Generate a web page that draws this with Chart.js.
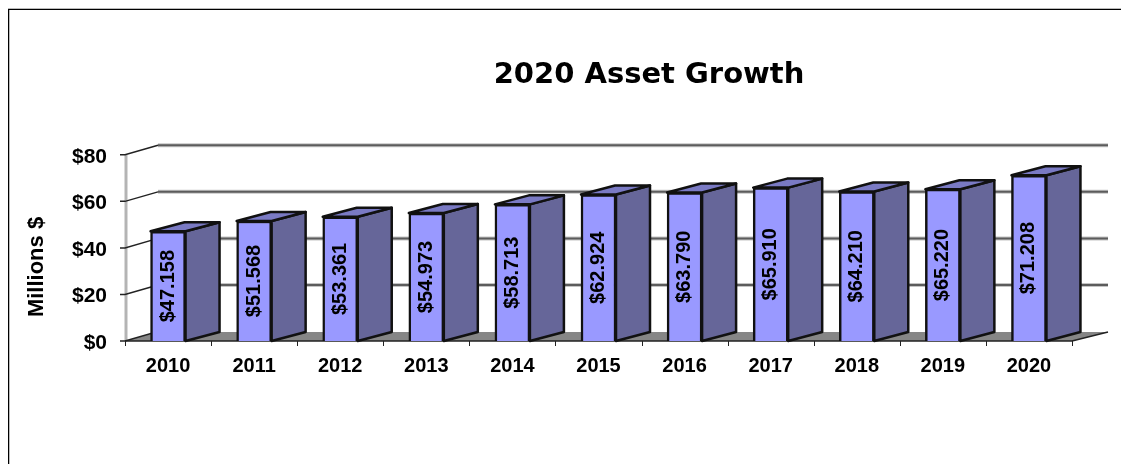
<!DOCTYPE html>
<html>
<head>
<meta charset="utf-8">
<title>2020 Asset Growth</title>
<script src="https://cdn.jsdelivr.net/npm/chart.js@4"></script>
<style>
    html, body { margin: 0; padding: 0; background: #fff; overflow: hidden; }
    #wrap { position: relative; width: 1121px; height: 464px; }
    #frame {
        position: absolute; left: 8px; top: 8px; right: 0; bottom: 0;
        border-top: 1px solid #bbb;
    }
    #frame div {
        position: absolute; left: 0; top: 0; right: 0; bottom: 0;
        border-top: 1px solid #000; border-left: 1px solid #000;
    }
    #frame span {
        position: absolute; left: 1px; top: 1px; bottom: 0; width: 1px; background: #bbb;
    }
    /* the original is a slightly soft scan */
    canvas { position: absolute; left: 0; top: 0; filter: blur(0.35px); }
</style>
</head>
<body>
<div id="wrap">
    <div id="frame"><div></div><span></span></div>
    <canvas id="assetChart" width="1121" height="464"></canvas>
</div>
<script>
// ==========================================
// Data
// ==========================================
const years = ["2010", "2011", "2012", "2013", "2014", "2015", "2016", "2017", "2018", "2019", "2020"];
const assets = [47.158, 51.568, 53.361, 54.973, 58.713, 62.924, 63.79, 65.91, 64.21, 65.22, 71.208];
const yTicks = [0, 20, 40, 60, 80];

const textFont = "'Liberation Sans', Arial, sans-serif";

function money(value) {
    return "$" + value.toFixed(3);
}

// ==========================================
// 3D look: walls, floor, bar sides, labels
// ==========================================
const depthX = 34;
const depthY = 9;

const look3d = {
    id: "look3d",

    afterLayout(chart) {
        // title sits right of the plot centre in the original
        const shift = 649 - (chart.titleBlock.left + chart.titleBlock.right) / 2;
        chart.titleBlock.left += shift;
        chart.titleBlock.right += shift;
    },

    beforeDatasetsDraw(chart) {
        const ctx = chart.ctx;
        const xs = chart.scales.x;
        const ys = chart.scales.y;
        const bottom = ys.getPixelForValue(0);
        const left = xs.left;
        const right = xs.right;

        ctx.save();

        // floor
        ctx.fillStyle = "#868686";
        ctx.beginPath();
        ctx.moveTo(left, bottom);
        ctx.lineTo(right, bottom);
        ctx.lineTo(right + 36, bottom - depthY);
        ctx.lineTo(left + 33, bottom - depthY);
        ctx.closePath();
        ctx.fill();

        // left wall edge
        ctx.strokeStyle = "#b4b4b4";
        ctx.lineWidth = 3;
        ctx.beginPath();
        ctx.moveTo(left + 1, ys.getPixelForValue(80));
        ctx.lineTo(left + 1, bottom);
        ctx.stroke();

        yTicks.forEach(tick => {
            const y = ys.getPixelForValue(tick);

            // back wall line, soft edge then dark core
            if (tick > 0) {
                ctx.strokeStyle = "#c4c4c4";
                ctx.lineWidth = 4;
                ctx.beginPath();
                ctx.moveTo(left + 33, y - depthY - 0.5);
                ctx.lineTo(right + 36, y - depthY - 0.5);
                ctx.stroke();

                ctx.strokeStyle = "#5c5c5c";
                ctx.lineWidth = 2;
                ctx.beginPath();
                ctx.moveTo(left + 33, y - depthY - 0.5);
                ctx.lineTo(right + 36, y - depthY - 0.5);
                ctx.stroke();
            }

            // side wall line and tick
            ctx.strokeStyle = "#222";
            ctx.lineWidth = 1.5;
            ctx.beginPath();
            ctx.moveTo(left - 5, y);
            ctx.lineTo(left, y);
            ctx.lineTo(left + 33, y - depthY - 0.5);
            ctx.stroke();
        });

        // front floor edges
        ctx.strokeStyle = "#222";
        ctx.lineWidth = 1.5;
        ctx.beginPath();
        ctx.moveTo(left, bottom);
        ctx.lineTo(right, bottom);
        ctx.lineTo(right + 36, bottom - depthY);
        ctx.stroke();

        // x ticks between the categories
        const step = (right - left) / years.length;
        ctx.lineWidth = 1;
        ctx.beginPath();
        for (let i = 0; i <= years.length; i++) {
            const x = Math.round(left + step * i) + 0.5;
            ctx.moveTo(x, bottom);
            ctx.lineTo(x, bottom + 5);
        }
        ctx.stroke();

        // bar side and top faces
        chart.getDatasetMeta(0).data.forEach(bar => {
            const x1 = bar.x - bar.width / 2;
            const x2 = bar.x + bar.width / 2;

            ctx.strokeStyle = "#111";
            ctx.lineWidth = 2.5;
            ctx.lineJoin = "round";

            ctx.fillStyle = "#666699";
            ctx.beginPath();
            ctx.moveTo(x2, bar.y);
            ctx.lineTo(x2 + depthX, bar.y - depthY);
            ctx.lineTo(x2 + depthX, bottom - depthY);
            ctx.lineTo(x2, bottom);
            ctx.closePath();
            ctx.fill();
            ctx.stroke();

            ctx.fillStyle = "#7a7ac4";
            ctx.beginPath();
            ctx.moveTo(x1, bar.y);
            ctx.lineTo(x1 + depthX, bar.y - depthY);
            ctx.lineTo(x2 + depthX, bar.y - depthY);
            ctx.lineTo(x2, bar.y);
            ctx.closePath();
            ctx.fill();
            ctx.stroke();
        });

        ctx.restore();
    },

    afterDatasetsDraw(chart) {
        const ctx = chart.ctx;

        ctx.save();
        ctx.fillStyle = "#000";
        ctx.textAlign = "center";
        ctx.textBaseline = "middle";

        // value labels, turned inside the bars
        ctx.font = "bold 20px " + textFont;
        chart.getDatasetMeta(0).data.forEach((bar, i) => {
            ctx.save();
            ctx.translate(bar.x, (bar.y + bar.base) / 2);
            ctx.rotate(-Math.PI / 2);
            ctx.fillText(money(assets[i]), 0, 0);
            ctx.restore();
        });

        // axis title
        ctx.font = "bold 22px " + textFont;
        ctx.translate(37, 267);
        ctx.rotate(-Math.PI / 2);
        ctx.fillText("Millions $", 0, 0);

        ctx.restore();
    }
};

// ==========================================
// Chart
// ==========================================
new Chart(document.getElementById("assetChart").getContext("2d"), {

    type: "bar",

    data: {
        labels: years,
        datasets: [{
            label: "Assets",
            data: assets,
            backgroundColor: "#9999ff",
            borderColor: "#111",
            borderWidth: 2.5,
            barThickness: 35
        }]
    },

    plugins: [look3d],

    options: {
        responsive: false,
        animation: false,
        layout: {
            padding: { left: 0, right: 49, top: 0, bottom: 0 }
        },
        plugins: {
            legend: { display: false },
            tooltip: { enabled: false },
            title: {
                display: true,
                text: "2020 Asset Growth",
                color: "#000",
                font: { family: "'DejaVu Sans', Verdana, sans-serif", size: 29, weight: "bold" },
                padding: { top: 58, bottom: 62 }
            }
        },
        scales: {
            x: {
                grid: { display: false },
                border: { display: false },
                afterFit(scale) { scale.height = 123; },
                ticks: {
                    color: "#000",
                    padding: 5,
                    maxRotation: 0,
                    font: { family: textFont, size: 20, weight: "bold" }
                }
            },
            y: {
                min: 0,
                max: 80,
                grid: { display: false },
                border: { display: false },
                afterFit(scale) { scale.width = 125; },
                afterBuildTicks(scale) { scale.ticks = yTicks.map(v => ({ value: v })); },
                ticks: {
                    color: "#000",
                    padding: 10,
                    labelOffset: 2,
                    font: { family: textFont, size: 21, weight: "bold" },
                    callback: value => "$" + value
                }
            }
        }
    }

});
</script>
</body>
</html>
